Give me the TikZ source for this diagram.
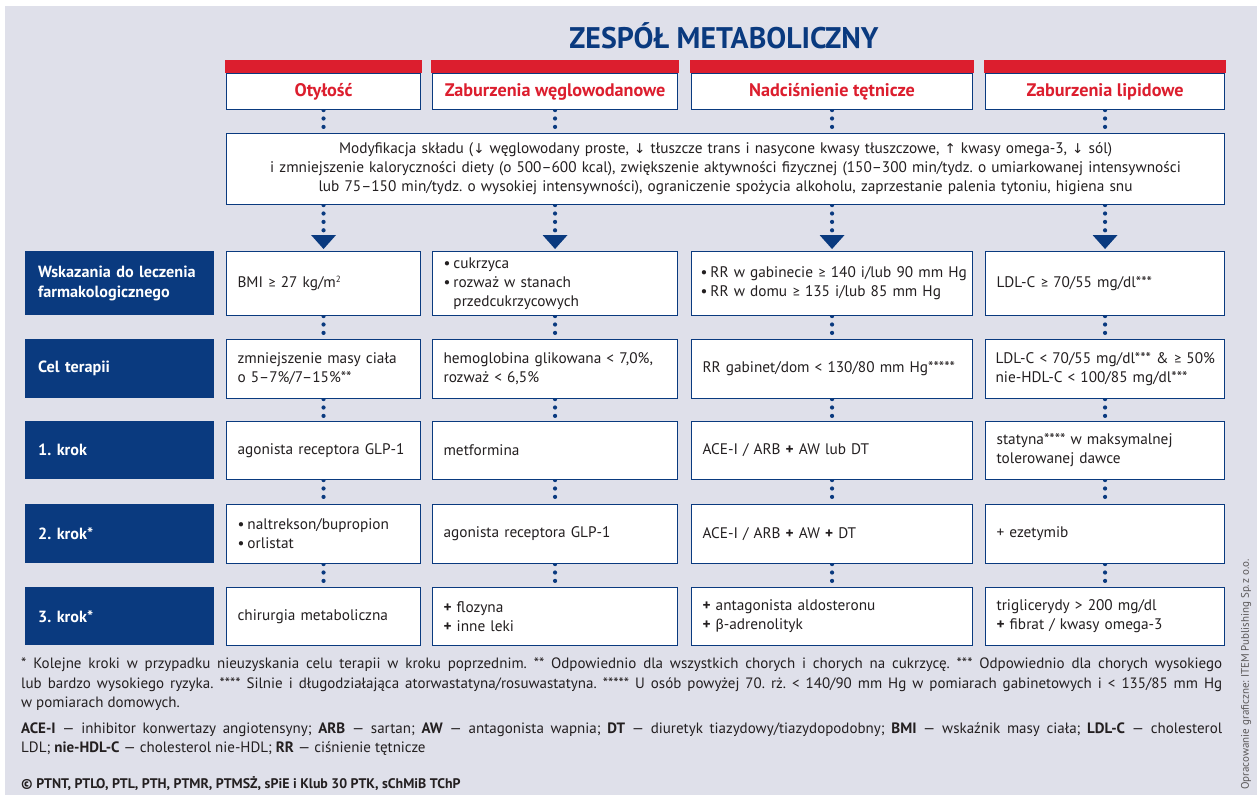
\documentclass[tikz,border=0pt]{standalone}
\usepackage{fontspec}
\setmainfont{PT Sans}
\newfontfamily\symf{DejaVu Sans}
\newfontfamily\carl{Carlito}
\usetikzlibrary{arrows.meta}
\pgfdeclarelayer{bg}
\pgfdeclarelayer{conn}
\pgfsetlayers{bg,conn,main}
\definecolor{bgc}{HTML}{DFE0EA}
\definecolor{navy}{HTML}{0A3A7F}
\definecolor{redc}{HTML}{DC1E2E}
\definecolor{txt}{HTML}{231F20}
\frenchspacing
\newcommand{\GE}{{\carl ≥}}
\newcommand{\DA}{{\symf\fontsize{13.5}{13.5}\selectfont ↓}}
\newcommand{\UA}{{\symf\fontsize{13.5}{13.5}\selectfont ↑}}
\newcommand{\bul}{•\hspace{3pt}}
\newcommand{\PL}{\textbf{+}}
\newcommand{\sqr}{{\fontsize{9}{9}\selectfont\raisebox{5pt}{2}}}
\newcommand{\cellfont}{\fontsize{15.3}{19}\selectfont}
\begin{document}
\begin{tikzpicture}[x=1pt,y=-1pt,
  cell/.style={draw=navy,line width=1.1pt,fill=white,anchor=north west,inner xsep=11pt,inner ysep=0pt,align=left,font=\cellfont,text=txt},
  colA/.style={text width=172pt},
  colB/.style={text width=223pt},
  colC/.style={text width=259pt},
  colD/.style={text width=217pt},
  lab/.style={fill=navy,text=white,anchor=north west,inner xsep=13pt,inner ysep=0pt,align=left,font=\fontsize{16.2}{20}\selectfont\bfseries,text width=163pt},
  rowA/.style={minimum height=64pt},
  rowB/.style={minimum height=59pt},
  rowC/.style={minimum height=58pt},
  rowD/.style={minimum height=59pt},
  rowE/.style={minimum height=58pt},
  head/.style={draw=navy,line width=1.1pt,fill=white,anchor=north west,inner sep=0pt,align=center,
    font=\fontsize{18.2}{20}\selectfont\bfseries,text=redc,minimum height=36pt},
  redbar/.style={fill=redc},
  dots/.style={navy,line width=4.2pt,line cap=round,dash pattern=on 0pt off 8.4pt},
  arr/.style={dots,-{Triangle[width=25pt,length=14pt,line width=0pt]},shorten >=2pt},
  foot/.style={anchor=north west,inner sep=0pt,align=left,text=txt,font=\fontsize{15}{19.5}\selectfont}
]
\useasboundingbox (0,0) rectangle (1257,795);
\begin{pgfonlayer}{bg}
\fill[bgc] (5,6) rectangle (1257,795);
\end{pgfonlayer}

\node[font=\fontsize{29.8}{32}\selectfont\bfseries,text=navy] (title) at (724,36) {ZESPÓŁ METABOLICZNY};

% headers
\node[head,minimum width=194pt] (h1) at (226,73) {Otyłość};
\node[head,minimum width=245pt] (h2) at (432,73) {Zaburzenia węglowodanowe};
\node[head,minimum width=281pt] (h3) at (691,73) {Nadciśnienie tętnicze};
\node[head,minimum width=239pt] (h4) at (985,73) {Zaburzenia lipidowe};
\foreach \h in {h1,h2,h3,h4}{
  \fill[redbar] ([xshift=-0.55pt]\h.north west) rectangle ([xshift=0.55pt,yshift=13pt]\h.north east);
}

% lifestyle box
\node[cell,align=center,text width=976pt,minimum height=71pt] (mod) at (226,133)
 {Modyfikacja składu (\DA{} węglowodany proste, \DA{} tłuszcze trans i nasycone kwasy tłuszczowe, \UA{} kwasy omega-3, \DA{} sól)\\
  i zmniejszenie kaloryczności diety (o 500–600 kcal), zwiększenie aktywności fizycznej (150–300 min/tydz. o umiarkowanej intensywności\\
  lub 75–150 min/tydz. o wysokiej intensywności), ograniczenie spożycia alkoholu, zaprzestanie palenia tytoniu, higiena snu};

% row labels
\node[lab,rowA] (l1) at (25,251) {Wskazania do leczenia\\farmakologicznego};
\node[lab,rowB] (l2) at (25,339) {Cel terapii};
\node[lab,rowC] (l3) at (25,421) {1. krok};
\node[lab,rowD] (l4) at (25,504) {2. krok*};
\node[lab,rowE] (l5) at (25,587) {3. krok*};

% row 1
\node[cell,colA,rowA] (c11) at (226,251) {BMI \GE{} 27 kg/m\sqr};
\node[cell,colB,rowA] (c12) at (432,251) {\bul cukrzyca\\\bul rozważ w stanach\\\phantom{\bul}przedcukrzycowych};
\node[cell,colC,rowA,inner xsep=9pt,text width=263pt] (c13) at (691,251) {\mbox{\bul RR w gabinecie \GE{} 140 i/lub 90 mm Hg}\\\mbox{\bul RR w domu \GE{} 135 i/lub 85 mm Hg}};
\node[cell,colD,rowA] (c14) at (985,251) {LDL-C \GE{} 70/55 mg/dl***};
% row 2
\node[cell,colA,rowB] (c21) at (226,339) {zmniejszenie masy ciała\\o 5–7\%/7–15\%**};
\node[cell,colB,rowB] (c22) at (432,339) {hemoglobina glikowana < 7,0\%,\\rozważ < 6,5\%};
\node[cell,colC,rowB] (c23) at (691,339) {RR gabinet/dom < 130/80 mm Hg*****};
\node[cell,colD,rowB,inner xsep=10pt,text width=219pt] (c24) at (985,339) {\mbox{LDL-C < 70/55 mg/dl*** \& \GE{} 50\%}\\nie-HDL-C < 100/85 mg/dl***};
% row 3
\node[cell,colA,rowC] (c31) at (226,421) {agonista receptora GLP-1};
\node[cell,colB,rowC] (c32) at (432,421) {metformina};
\node[cell,colC,rowC] (c33) at (691,421) {ACE-I / ARB \PL{} AW lub DT};
\node[cell,colD,rowC] (c34) at (985,421) {statyna**** w maksymalnej\\tolerowanej dawce};
% row 4
\node[cell,colA,rowD] (c41) at (226,504) {\bul naltrekson/bupropion\\\bul orlistat};
\node[cell,colB,rowD] (c42) at (432,504) {agonista receptora GLP-1};
\node[cell,colC,rowD] (c43) at (691,504) {ACE-I / ARB \PL{} AW \PL{} DT};
\node[cell,colD,rowD] (c44) at (985,504) {+ ezetymib};
% row 5
\node[cell,colA,rowE] (c51) at (226,587) {chirurgia metaboliczna};
\node[cell,colB,rowE] (c52) at (432,587) {\PL{} flozyna\\\PL{} inne leki};
\node[cell,colC,rowE] (c53) at (691,587) {\PL{} antagonista aldosteronu\\\PL{} {\carl β}-adrenolityk};
\node[cell,colD,rowE] (c54) at (985,587) {triglicerydy > 200 mg/dl\\\PL{} fibrat / kwasy omega-3};

% connectors
\begin{pgfonlayer}{conn}
\foreach \i in {1,2,3,4}{
  \draw[dots] (h\i.south) -- (h\i.south |- mod.north);
  \draw[arr] (mod.south -| c1\i.north) -- (c1\i.north);
  \foreach \r/\s in {1/2,2/3,3/4,4/5}{
    \draw[dots] (c\r\i.south) -- (c\s\i.north);
  }
}
\end{pgfonlayer}

% footnotes
\node[foot] (fn) at (21,658) {%
\makebox[1201pt][s]{* Kolejne kroki w przypadku nieuzyskania celu terapii w kroku poprzednim. ** Odpowiednio dla wszystkich chorych i chorych na cukrzycę. *** Odpowiednio dla chorych wysokiego}\\
\makebox[1201pt][s]{lub bardzo wysokiego ryzyka. **** Silnie i długodziałająca atorwastatyna/rosuwastatyna. ***** U osób powyżej 70. rż. < 140/90 mm Hg w pomiarach gabinetowych i < 135/85 mm Hg}\\
w pomiarach domowych.};
\node[foot] (leg) at (21,722) {%
\makebox[1201pt][s]{\textbf{ACE-I} — inhibitor konwertazy angiotensyny; \textbf{ARB} — sartan; \textbf{AW} — antagonista wapnia; \textbf{DT} — diuretyk tiazydowy/tiazydopodobny; \textbf{BMI} — wskaźnik masy ciała; \textbf{LDL-C} — cholesterol}\\
LDL; \textbf{nie-HDL-C} — cholesterol nie-HDL; \textbf{RR} — ciśnienie tętnicze};
\node[anchor=west,inner sep=0pt,text=txt,font=\fontsize{13.9}{15}\selectfont\bfseries] (copy) at (21,784)
 {© PTNT, PTLO, PTL, PTH, PTMR, PTMSŻ, sPiE i Klub 30 PTK, sChMiB TChP};
\node[rotate=90,anchor=west,inner sep=0pt,text=txt!75,font=\fontsize{11}{12}\selectfont] (side) at (1246,790)
 {Opracowanie graficzne: ITEM Publishing Sp.\,z o.o.};
\end{tikzpicture}
\end{document}
